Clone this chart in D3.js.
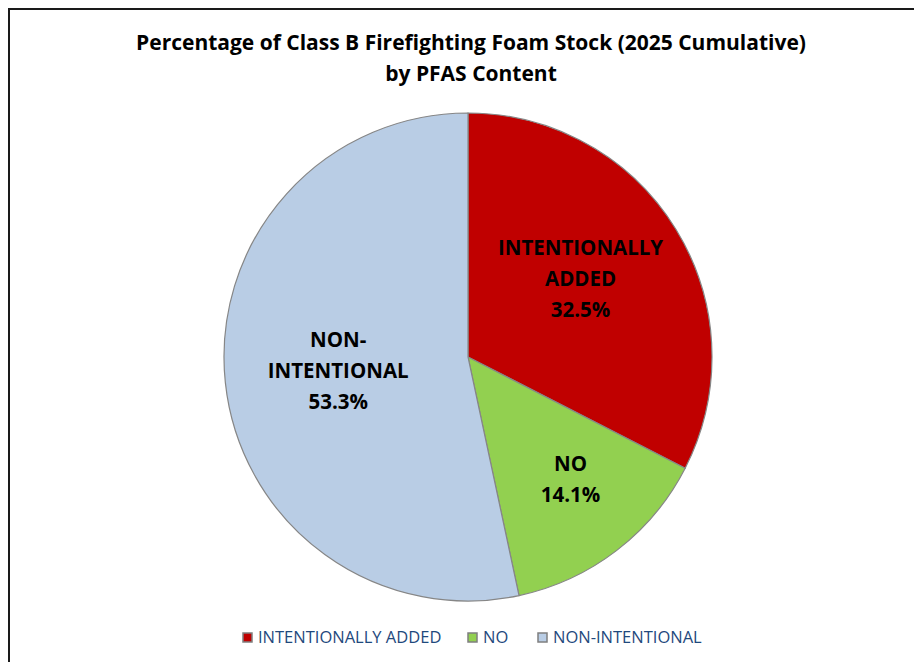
<html>
<head>
<script src="https://d3js.org/d3.v7.min.js"></script>
<style>
  body { margin: 0; background: #fff; }
  text { font-family: "Open Sans", "Noto Sans", sans-serif; }
</style>
</head>
<body>
<div id="chart"></div>
<script>
// data
var categories = ["INTENTIONALLY ADDED", "NO", "NON-INTENTIONAL"];
var values = [32.5, 14.1, 53.3];
var labelLines = [["INTENTIONALLY", "ADDED"], ["NO"], ["NON-", "INTENTIONAL"]];
var colors = ["#C00000", "#92D050", "#B9CDE5"];
var titleLines = ["Percentage of Class B Firefighting Foam Stock (2025 Cumulative)", "by PFAS Content"];

var width = 914, height = 662;
var cx = 468, cy = 357, radius = 244;
// label placement: fraction of radius plus a small nudge, like excel's best fit
var labelRadius = [0.56, 0.67, 0.535];
var labelNudge = [[-4, -7], [3, -7], [0, 0]];

var svg = d3.select("#chart").append("svg")
    .attr("width", width)
    .attr("height", height);

svg.append("rect")
    .attr("x", 9).attr("y", 9)
    .attr("width", 950).attr("height", 700)
    .attr("fill", "#fff")
    .attr("stroke", "#1a1a1a")
    .attr("stroke-width", 2);

// title
svg.selectAll(".title")
    .data(titleLines)
    .enter().append("text")
    .attr("class", "title")
    .attr("x", 471)
    .attr("y", function (d, i) { return 50 + i * 31; })
    .attr("text-anchor", "middle")
    .style("font-size", "21px")
    .style("font-weight", "bold")
    .attr("fill", "#000")
    .text(function (d) { return d; });

var pie = d3.pie().sort(null).value(function (d) { return d; });
var arc = d3.arc().innerRadius(0).outerRadius(radius);

var g = svg.append("g").attr("transform", "translate(" + cx + "," + cy + ")");
var arcs = pie(values);

g.selectAll("path")
    .data(arcs)
    .enter().append("path")
    .attr("d", arc)
    .attr("fill", function (d, i) { return colors[i]; })
    .attr("stroke", "#868686")
    .attr("stroke-width", 1.2);

// slice labels
arcs.forEach(function (d, i) {
    var r = radius * labelRadius[i];
    var c = d3.arc().innerRadius(r).outerRadius(r).centroid(d);
    var x0 = c[0] + labelNudge[i][0];
    var lines = labelLines[i].concat([values[i].toFixed(1) + "%"]);
    var t = g.append("text")
        .attr("text-anchor", "middle")
        .style("font-size", "20.5px")
        .style("font-weight", "bold")
        .attr("fill", "#000");
    var startY = c[1] + labelNudge[i][1] - (lines.length - 1) * 31 / 2 + 7;
    lines.forEach(function (line, j) {
        t.append("tspan")
            .attr("x", x0)
            .attr("y", startY + j * 31)
            .text(line);
    });
});

// legend
var legendX = [243, 468, 538];
var legend = svg.selectAll(".legend")
    .data(categories)
    .enter().append("g")
    .attr("class", "legend")
    .attr("transform", function (d, i) { return "translate(" + legendX[i] + ",633)"; });

legend.append("rect")
    .attr("width", 9).attr("height", 9)
    .attr("fill", function (d, i) { return colors[i]; })
    .attr("stroke", "#7f7f7f")
    .attr("stroke-width", 1.5);

legend.append("text")
    .attr("x", 15)
    .attr("y", 10)
    .style("font-size", "16.5px")
    .attr("fill", "#1F497D")
    .text(function (d) { return d; });
</script>
</body>
</html>
